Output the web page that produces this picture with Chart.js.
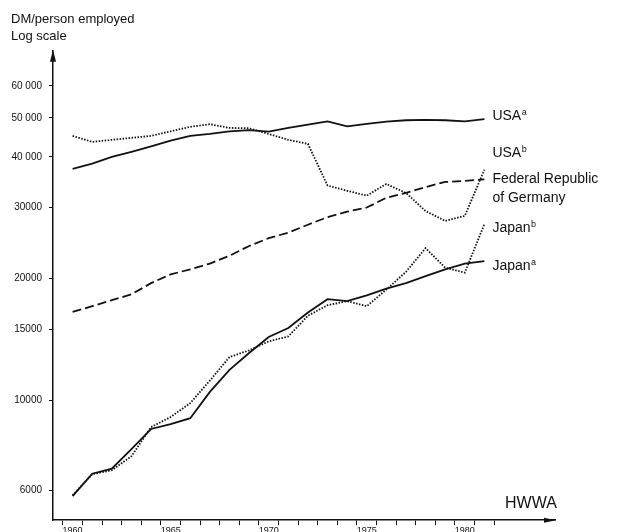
<!DOCTYPE html>
<html>
<head>
<meta charset="utf-8">
<script src="https://cdn.jsdelivr.net/npm/chart.js@4.4.1/dist/chart.umd.min.js"></script>
<style>
  html, body { margin: 0; padding: 0; background: #fff; overflow: hidden; }
  canvas { display: block; }
</style>
</head>
<body>
<canvas id="productivity-chart" width="624" height="540"></canvas>
<script>
// Years (one value per year)
const years = [1960, 1961, 1962, 1963, 1964, 1965, 1966, 1967, 1968, 1969, 1970,
               1971, 1972, 1973, 1974, 1975, 1976, 1977, 1978, 1979, 1980, 1981];

// DM per person employed
const usaA = [37400, 38500, 40000, 41200, 42500, 43900, 45100, 45600, 46300, 46600, 46200,
              47200, 48100, 49000, 47600, 48300, 48900, 49300, 49400, 49300, 49000, 49600];
const usaB = [45100, 43600, 44100, 44600, 45100, 46300, 47500, 48200, 47200, 47100, 45600,
              44100, 43100, 34000, 33000, 32100, 34300, 32600, 29400, 27800, 28600, 37200];
const germany = [16550, 17100, 17700, 18300, 19500, 20500, 21100, 21800, 22800, 24100, 25200,
                 26000, 27200, 28400, 29300, 30000, 31700, 32600, 33700, 34700, 34900, 35200];
const japanB = [5830, 6570, 6720, 7280, 8590, 9100, 9850, 11200, 12800, 13300, 14000,
                14400, 16200, 17200, 17600, 17100, 18800, 20800, 23800, 21300, 20700, 27300];
const japanA = [5800, 6590, 6780, 7580, 8500, 8740, 9040, 10500, 11900, 13100, 14350,
                15100, 16500, 17800, 17600, 18200, 18900, 19500, 20300, 21100, 21800, 22100];

// Axis ticks
const yTickValues = [6000, 10000, 15000, 20000, 30000, 40000, 50000, 60000];
const yTickLabels = ['6000', '10000', '15000', '20000', '30000', '40 000', '50 000', '60 000'];
const xLabelYears = [1960, 1965, 1970, 1975, 1980];

const INK = '#111';
const FONT = '"Liberation Sans", Arial, Helvetica, sans-serif';

/**
 * Build {x, y} points from the year list and one series
 */
function toPoints(values) {
  return years.map((yr, i) => ({ x: yr, y: values[i] }));
}

/**
 * Axis arrows and the series labels on the right
 */
const decorPlugin = {
  id: 'decor',
  afterDraw(chart) {
    const ctx = chart.ctx;
    const area = chart.chartArea;
    const xScale = chart.scales.x;
    ctx.save();
    ctx.fillStyle = INK;

    // arrow heads
    ctx.beginPath();
    ctx.moveTo(area.left, area.top - 1);
    ctx.lineTo(area.left - 3, area.top + 11);
    ctx.lineTo(area.left + 3, area.top + 11);
    ctx.closePath();
    ctx.fill();
    ctx.beginPath();
    ctx.moveTo(area.right + 1, area.bottom);
    ctx.lineTo(area.right - 11, area.bottom - 2.5);
    ctx.lineTo(area.right - 11, area.bottom + 2.5);
    ctx.closePath();
    ctx.fill();

    // series labels
    const lx = xScale.getPixelForValue(years[years.length - 1]) + 8;
    const labels = [
      { text: 'USA', sup: 'a', y: 120 },
      { text: 'USA', sup: 'b', y: 157 },
      { text: 'Federal Republic', sup: '', y: 183 },
      { text: 'of Germany', sup: '', y: 202 },
      { text: 'Japan', sup: 'b', y: 232 },
      { text: 'Japan', sup: 'a', y: 270 }
    ];
    ctx.textBaseline = 'alphabetic';
    ctx.textAlign = 'left';
    labels.forEach((l) => {
      ctx.font = '14px ' + FONT;
      ctx.fillText(l.text, lx, l.y);
      if (l.sup) {
        const w = ctx.measureText(l.text).width;
        ctx.font = '9px ' + FONT;
        ctx.fillText(l.sup, lx + w + 0.5, l.y - 5);
      }
    });

    // source
    ctx.font = '16px ' + FONT;
    ctx.fillText('HWWA', 505, 508);
    ctx.restore();
  }
};

function initChart() {
  const ctx = document.getElementById('productivity-chart').getContext('2d');
  const common = { borderColor: INK, pointRadius: 0, fill: false, tension: 0, borderWidth: 1.8 };
  return new Chart(ctx, {
    type: 'line',
    data: {
      datasets: [
        { ...common, label: 'USA a', data: toPoints(usaA) },
        { ...common, label: 'USA b', data: toPoints(usaB), borderDash: [1.5, 1.5] },
        { ...common, label: 'Federal Republic of Germany', data: toPoints(germany), borderDash: [9, 4] },
        { ...common, label: 'Japan b', data: toPoints(japanB), borderDash: [1.5, 1.5] },
        { ...common, label: 'Japan a', data: toPoints(japanA) }
      ]
    },
    options: {
      responsive: false,
      animation: false,
      layout: { padding: { left: 11, right: 69, top: 0, bottom: 4 } },
      plugins: {
        legend: { display: false },
        tooltip: { enabled: false },
        title: {
          display: true,
          align: 'start',
          text: ['DM/person employed', 'Log scale'],
          color: INK,
          font: { family: FONT, size: 13, weight: 'normal', lineHeight: 1.3 },
          padding: { top: 11, bottom: 6 }
        }
      },
      scales: {
        x: {
          type: 'linear',
          min: 1959,
          max: 1984.6,
          afterBuildTicks: (scale) => {
            const ticks = [];
            for (let i = 0; i <= years.length; i++) {
              ticks.push({ value: years[0] - 0.5 + i });
            }
            scale.ticks = ticks;
          },
          ticks: {
            autoSkip: false,
            maxRotation: 0,
            padding: 0,
            labelOffset: 9.8,
            color: INK,
            font: { family: FONT, size: 9 },
            callback: (value) => {
              const yr = value + 0.5;
              return xLabelYears.includes(yr) ? String(yr) : '';
            }
          },
          grid: { drawOnChartArea: false, drawTicks: true, tickLength: 5, color: INK, lineWidth: 1 },
          border: { display: true, color: INK, width: 1.5 }
        },
        y: {
          type: 'logarithmic',
          min: 5057,
          max: 73220,
          afterBuildTicks: (scale) => {
            scale.ticks = yTickValues.map((v) => ({ value: v }));
          },
          // keep the axis box narrow so the plot starts where the reference does
          afterFit: (scale) => {
            scale.width = 42;
          },
          ticks: {
            autoSkip: false,
            padding: 7,
            color: INK,
            font: { family: FONT, size: 10 },
            callback: (value) => {
              const i = yTickValues.indexOf(value);
              return i >= 0 ? yTickLabels[i] : '';
            }
          },
          grid: { drawOnChartArea: false, drawTicks: true, tickLength: 4, color: INK, lineWidth: 1 },
          border: { display: true, color: INK, width: 1.5 }
        }
      }
    },
    plugins: [decorPlugin]
  });
}

initChart();
</script>
</body>
</html>
